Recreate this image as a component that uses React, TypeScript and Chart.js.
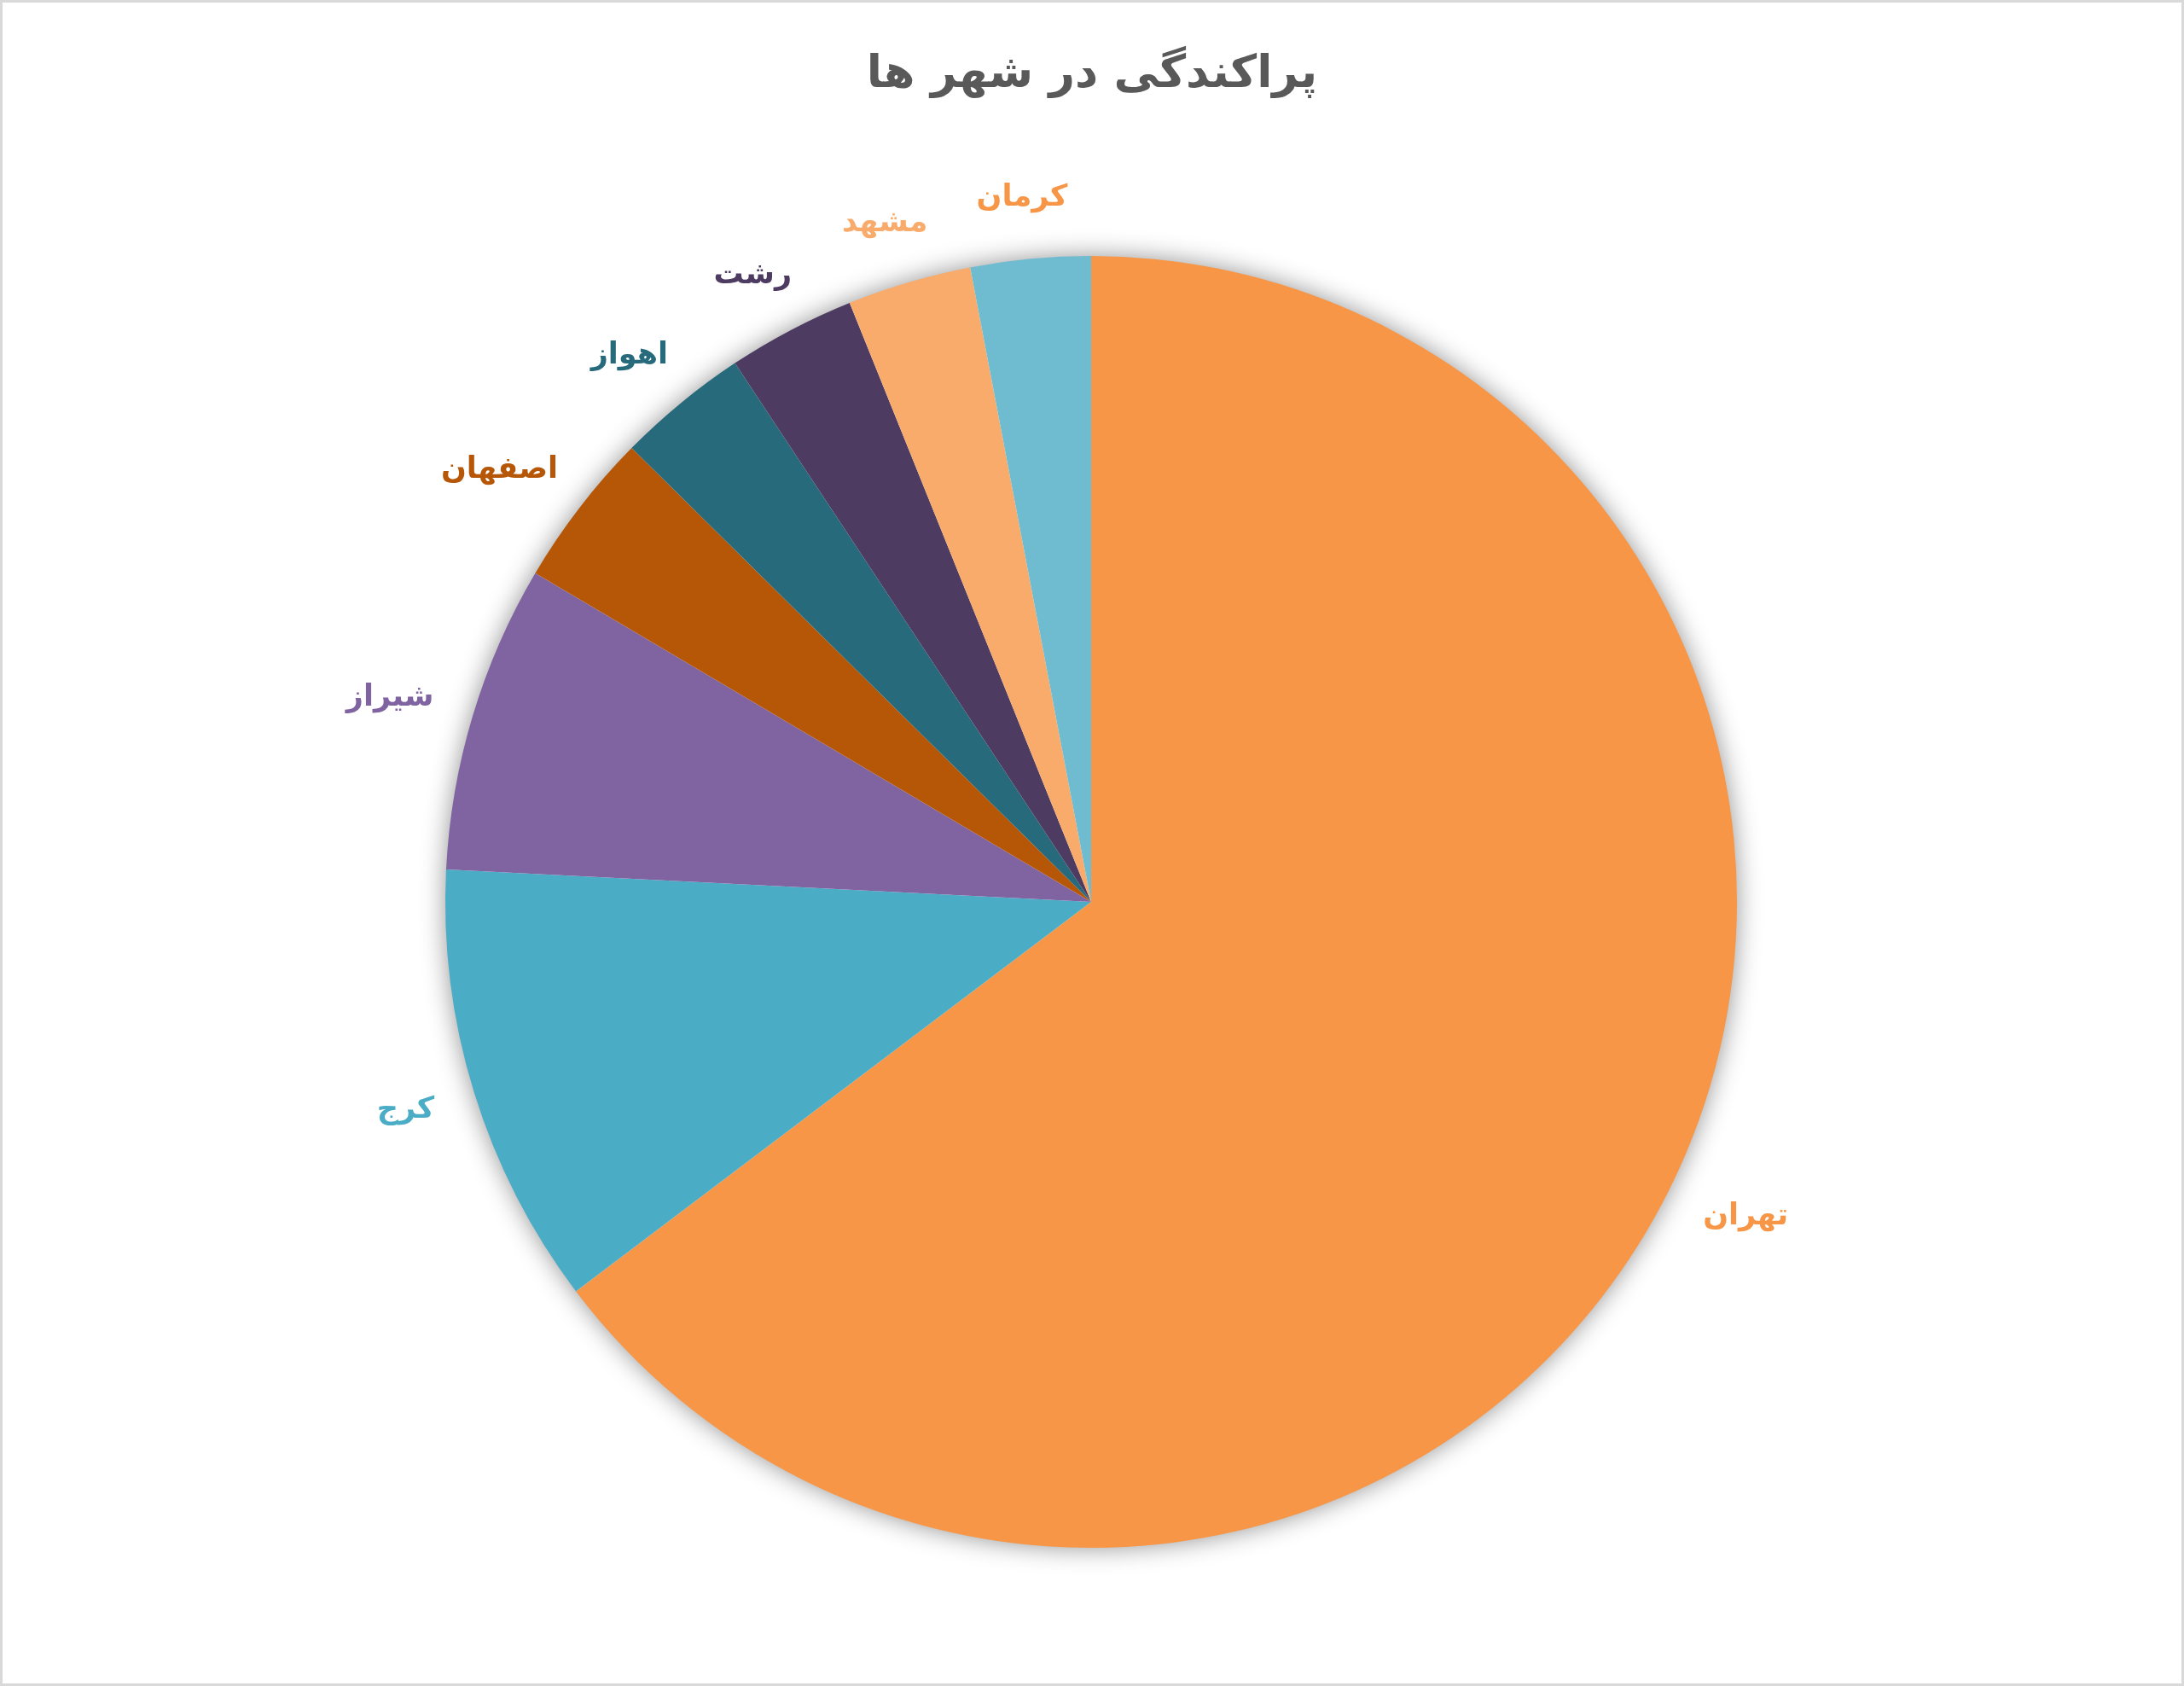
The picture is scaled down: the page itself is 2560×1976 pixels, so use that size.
import React, { useEffect, useRef } from "react";
import { Chart, registerables } from "chart.js";

Chart.register(...registerables);

const chartTitle = "پراکندگی در شهر ها";
const cities = ["تهران", "کرج", "شیراز", "اصفهان", "اهواز", "رشت", "مشهد", "کرمان"];
const shares = [64.7, 11.1, 7.7, 3.9, 3.3, 3.2, 3.1, 3.0];
const sliceColors = ["#F79646", "#4BACC6", "#8064A2", "#B65708", "#276A7C", "#4D3B62", "#F8AB6B", "#6FBCD1"];
const labelColors = ["#F79646", "#4BACC6", "#8064A2", "#B65708", "#276A7C", "#4D3B62", "#F8AB6B", "#F79646"];

const W = 2560;
const H = 1976;
const FONT = '"DejaVu Sans", "Noto Sans", sans-serif';

const decorPlugin = {
  id: "decor",
  beforeDraw(chart: any) {
    const ctx = chart.ctx;
    ctx.save();
    ctx.fillStyle = "#FFFFFF";
    ctx.fillRect(0, 0, chart.width, chart.height);
    ctx.restore();
  },
  beforeDatasetsDraw(chart: any) {
    const meta = chart.getDatasetMeta(0);
    const el = meta.data[0];
    if (!el) return;
    const { x, y, outerRadius } = el.getProps(["x", "y", "outerRadius"], true);
    const ctx = chart.ctx;
    ctx.save();
    ctx.shadowColor = "rgba(0,0,0,0.45)";
    ctx.shadowBlur = 30;
    ctx.shadowOffsetX = 0;
    ctx.shadowOffsetY = 0;
    ctx.beginPath();
    ctx.arc(x, y, outerRadius - 1, 0, Math.PI * 2);
    ctx.fillStyle = "#FFFFFF";
    ctx.fill();
    ctx.restore();
  },
  afterDatasetsDraw(chart: any) {
    const ctx = chart.ctx;
    const meta = chart.getDatasetMeta(0);
    ctx.save();
    ctx.font = `bold 35px ${FONT}`;
    ctx.textAlign = "center";
    ctx.textBaseline = "middle";
    ctx.direction = "rtl";
    const g = 50;
    const h = 44;
    meta.data.forEach((el: any, i: number) => {
      const { x, y, startAngle, endAngle, outerRadius } = el.getProps(
        ["x", "y", "startAngle", "endAngle", "outerRadius"],
        true
      );
      const mid = (startAngle + endAngle) / 2;
      const ux = Math.cos(mid);
      const uy = Math.sin(mid);
      const text = chart.data.labels[i];
      const w = ctx.measureText(text).width;
      const cx = x + ux * outerRadius + ux * (w / 2 + g);
      const cy = y + uy * outerRadius + uy * (h / 2 + g);
      ctx.fillStyle = labelColors[i];
      ctx.fillText(text, cx, cy);
    });
    ctx.restore();
  },
  afterDraw(chart: any) {
    const ctx = chart.ctx;
    ctx.save();
    ctx.font = `bold 53px ${FONT}`;
    ctx.fillStyle = "#595959";
    ctx.textAlign = "center";
    ctx.textBaseline = "alphabetic";
    ctx.direction = "rtl";
    ctx.fillText(chartTitle, W / 2, 102);
    ctx.strokeStyle = "#D9D9D9";
    ctx.lineWidth = 3;
    ctx.strokeRect(1.5, 1.5, W - 3, H - 3);
    ctx.restore();
  },
};

export default function App() {
  const ref = useRef<HTMLCanvasElement | null>(null);

  useEffect(() => {
    document.body.style.margin = "0";
    const canvas = ref.current;
    if (!canvas) return;
    const chart = new Chart(canvas, {
      type: "pie",
      data: {
        labels: cities,
        datasets: [
          {
            data: shares,
            backgroundColor: sliceColors,
            borderWidth: 0,
          },
        ],
      },
      options: {
        responsive: false,
        animation: false,
        devicePixelRatio: 1,
        layout: { padding: { top: 300, bottom: 162, left: 0, right: 2 } },
        plugins: {
          legend: { display: false },
          tooltip: { enabled: false },
          title: { display: false },
        },
      },
      plugins: [decorPlugin],
    });
    return () => chart.destroy();
  }, []);

  return (
    <div style={{ position: "absolute", left: 0, top: 0, width: W, height: H }}>
      <canvas ref={ref} width={W} height={H} style={{ display: "block", width: W, height: H }} />
    </div>
  );
}
